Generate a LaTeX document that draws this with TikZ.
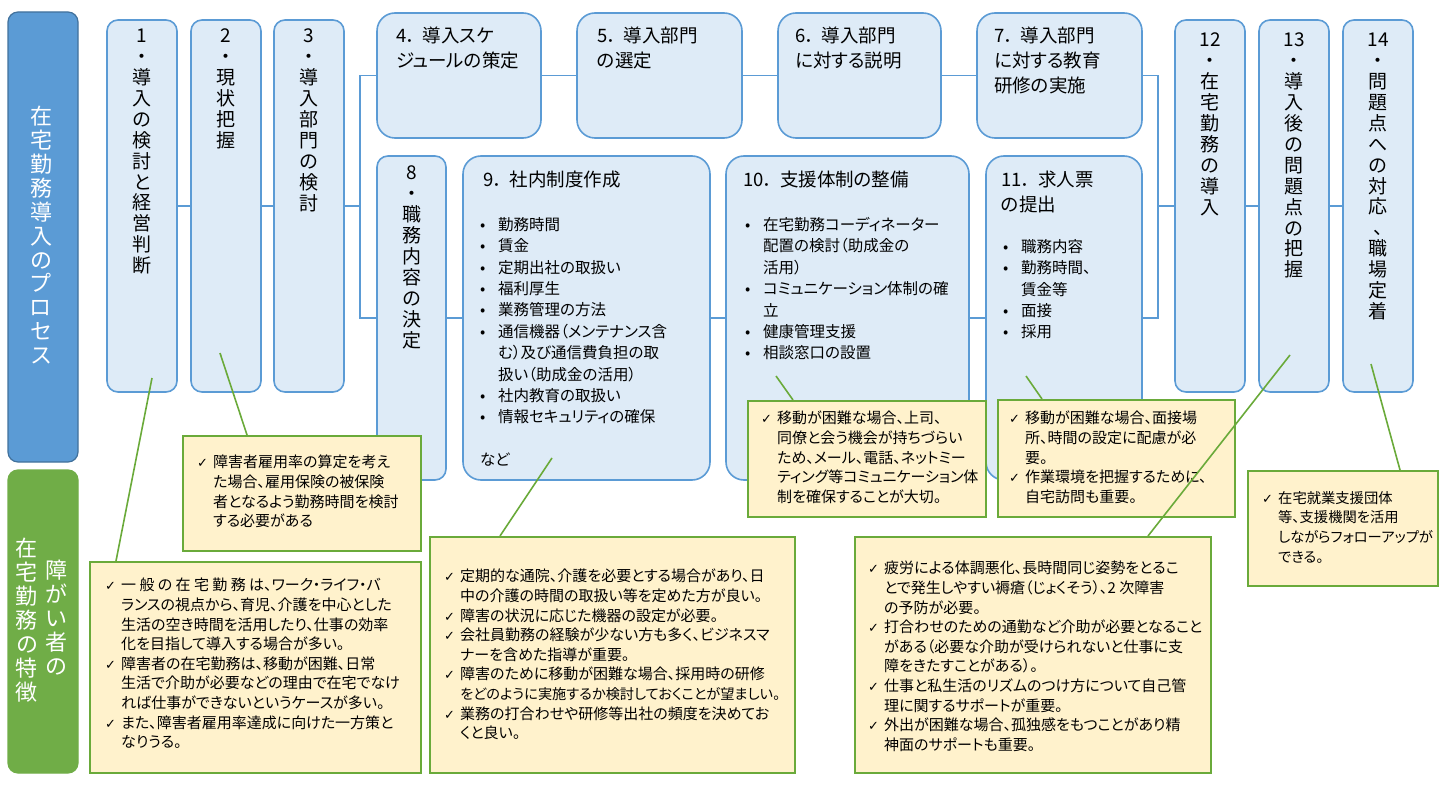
\documentclass[tikz,border=0pt]{standalone}
\usepackage{fontspec}
\setmainfont{Noto Sans CJK JP}[RawFeature=+palt]
\newfontfamily\djf{DejaVu Sans}
\definecolor{bord}{HTML}{5B9BD5}
\definecolor{boxf}{HTML}{DEEBF7}
\definecolor{lblue}{HTML}{5B9BD5}
\definecolor{lblueb}{HTML}{41719C}
\definecolor{lgreen}{HTML}{70AD47}
\definecolor{ngreen}{HTML}{6AAA3A}
\definecolor{noteY}{HTML}{FFF2CC}
\newcommand\ck{\makebox[16pt][l]{\djf\fontsize{13}{13}\selectfont ✓}}
\newcommand\ind{\hspace*{16pt}}
\newcommand\bl{\makebox[18pt][l]{•}}
\newcommand\bi{\hspace*{18pt}}
\newcommand\pd{．\hspace{7pt}}
\begin{document}
\begin{tikzpicture}[x=1pt,y=-1pt,
  pbox/.style={draw=bord, fill=boxf, line width=1.6pt, rounded corners=11pt, inner sep=0},
  tbox/.style={pbox, rounded corners=18pt},
  note/.style={draw=ngreen, fill=noteY, line width=1.8pt, inner sep=0},
  nt/.style={font=\fontsize{15}{19.6}\selectfont, align=left, inner sep=0, anchor=north west},
  bt/.style={font=\fontsize{15.5}{21.4}\selectfont, align=left, inner sep=0, anchor=north west},
  tt/.style={font=\fontsize{18.5}{25}\selectfont, align=left, inner sep=0, anchor=north west},
  vt/.style={font=\fontsize{19}{20.9}\selectfont, align=center, inner sep=0, anchor=north},
  lt/.style={font=\fontsize{22}{23.9}\selectfont, align=center, inner sep=0, anchor=north, text=white},
  conn/.style={draw=bord, line width=1.6pt},
  gl/.style={draw=ngreen, line width=1.6pt}]
\useasboundingbox (0,0) rectangle (1440,810);

% labels
\node[draw=lblueb, fill=lblue, line width=1.2pt, rounded corners=10pt, minimum width=70pt, minimum height=450pt] (lab1) at (43,237) {};
\node[draw=lgreen, fill=lgreen, line width=1.2pt, rounded corners=10pt, minimum width=70pt, minimum height=303pt] (lab2) at (43,621.5) {};
\node[lt] (lab1t) at (41,106) {在\\宅\\勤\\務\\導\\入\\の\\プ\\ロ\\セ\\ス};
\node[lt] (lab2a) at (27,538) {在\\宅\\勤\\務\\の\\特\\徴};
\node[lt] (lab2b) at (56,560) {障\\が\\い\\者\\の};

% connectors
\coordinate (L) at (360,206);
\coordinate (R) at (1158,206);

% boxes
\node[pbox, minimum width=70pt, minimum height=372pt] (b1) at (142,206) {};
\node[pbox, minimum width=70pt, minimum height=372pt] (b2) at (226,206) {};
\node[pbox, minimum width=70pt, minimum height=372pt] (b3) at (309,206) {};
\node[tbox, minimum width=164pt, minimum height=125pt] (b4) at (459,75.5) {};
\node[tbox, minimum width=165pt, minimum height=125pt] (b5) at (659.5,75.5) {};
\node[tbox, minimum width=163pt, minimum height=125pt] (b6) at (859.5,75.5) {};
\node[tbox, minimum width=165pt, minimum height=125pt] (b7) at (1059.5,75.5) {};
\node[pbox, minimum width=69pt, minimum height=324pt] (b8) at (411.5,318) {};
\node[tbox, minimum width=247pt, minimum height=324pt] (b9) at (586.5,318) {};
\node[tbox, minimum width=243pt, minimum height=324pt] (b10) at (847.5,318) {};
\node[tbox, minimum width=156pt, minimum height=324pt] (b11) at (1064,318) {};
\node[pbox, minimum width=70pt, minimum height=372pt] (b12) at (1210,206) {};
\node[pbox, minimum width=70pt, minimum height=372pt] (b13) at (1294,206) {};
\node[pbox, minimum width=70pt, minimum height=372pt] (b14) at (1378,206) {};

\draw[conn] (b1) -- (b2);
\draw[conn] (b2) -- (b3);
\draw[conn] (b3) -- (L);
\draw[conn] (b4) -| (L) |- (b8);
\draw[conn] (b4) -- (b5);
\draw[conn] (b5) -- (b6);
\draw[conn] (b6) -- (b7);
\draw[conn] (b8) -- (b9);
\draw[conn] (b9) -- (b10);
\draw[conn] (b10) -- (b11);
\draw[conn] (b7) -| (R) |- (b11);
\draw[conn] (R) -- (b12);
\draw[conn] (b12) -- (b13);
\draw[conn] (b13) -- (b14);

% vertical texts
\node[vt] (t1) at (142,29) {1\\・\\導\\入\\の\\検\\討\\と\\経\\営\\判\\断};
\node[vt] (t2) at (226,29) {2\\・\\現\\状\\把\\握};
\node[vt] (t3) at (309,29) {3\\・\\導\\入\\部\\門\\の\\検\\討};
\node[vt] (t8) at (411.5,166) {8\\・\\職\\務\\内\\容\\の\\決\\定};
\node[vt] (t12) at (1210,33) {12\\・\\在\\宅\\勤\\務\\の\\導\\入};
\node[vt] (t13) at (1294,33) {13\\・\\導\\入\\後\\の\\問\\題\\点\\の\\把\\握};
\node[vt] (t14) at (1378,33) {14\\・\\問\\題\\点\\へ\\の\\対\\応\\、\\職\\場\\定\\着};

% top texts
\node[tt] (t4) at (396,27) {4\pd 導入スケ\\ジュールの策定};
\node[tt] (t5) at (597,27) {5\pd 導入部門\\の選定};
\node[tt] (t6) at (795,27) {6\pd 導入部門\\に対する説明};
\node[tt] (t7) at (994,27) {7\pd 導入部門\\に対する教育\\研修の実施};
\node[tt] (t9) at (483,171) {9\pd 社内制度作成};
\node[tt] (t10) at (743,171) {10\pd 支援体制の整備};
\node[tt] (t11) at (1001,171) {11\pd 求人票\\の提出};

\node[bt] (l9) at (480,217) {\bl 勤務時間\\\bl 賃金\\\bl 定期出社の取扱い\\\bl 福利厚生\\\bl 業務管理の方法\\\bl 通信機器（メンテナンス含\\\bi む）及び通信費負担の取\\\bi 扱い（助成金の活用）\\\bl 社内教育の取扱い\\\bl 情報セキュリティの確保};
\node[bt] (l9b) at (480,453) {など};
\node[bt] (l10) at (745,217) {\bl 在宅勤務コーディネーター\\\bi 配置の検討（助成金の\\\bi 活用）\\\bl コミュニケーション体制の確\\\bi 立\\\bl 健康管理支援\\\bl 相談窓口の設置};
\node[bt] (l11) at (1003,239) {\bl 職務内容\\\bl 勤務時間、\\\bi 賃金等\\\bl 面接\\\bl 採用};

% notes
\node[note, minimum width=331pt, minimum height=211pt] (n1) at (255.5,667.5) {};
\node[note, minimum width=238pt, minimum height=115pt] (n2) at (302,493.5) {};
\node[note, minimum width=365pt, minimum height=236pt] (n9) at (612.5,655) {};
\node[note, minimum width=238pt, minimum height=116pt] (n10) at (867,459) {};
\node[note, minimum width=237pt, minimum height=117pt] (n11) at (1116.5,458.5) {};
\node[note, minimum width=356pt, minimum height=236pt] (n13) at (1033,655) {};
\node[note, minimum width=190pt, minimum height=115pt] (n14) at (1343,528.5) {};

\node[nt] (x2) at (197,455) {\ck 障害者雇用率の算定を考え\\\ind た場合、雇用保険の被保険\\\ind 者となるよう勤務時間を検討\\\ind する必要がある};
\node[nt] (x1) at (105,578) {\ck 一 般 の 在 宅 勤 務 は、ワーク・ライフ・バ\\\ind ランスの視点から、育児、介護を中心とした\\\ind 生活の空き時間を活用したり、仕事の効率\\\ind 化を目指して導入する場合が多い。\\\ck 障害者の在宅勤務は、移動が困難、日常\\\ind 生活で介助が必要などの理由で在宅でなけ\\\ind れば仕事ができないというケースが多い。\\\ck また、障害者雇用率達成に向けた一方策と\\\ind なりうる。};
\node[nt] (x9) at (444,569) {\ck 定期的な通院、介護を必要とする場合があり、日\\\ind 中の介護の時間の取扱い等を定めた方が良い。\\\ck 障害の状況に応じた機器の設定が必要。\\\ck 会社員勤務の経験が少ない方も多く、ビジネスマ\\\ind ナーを含めた指導が重要。\\\ck 障害のために移動が困難な場合、採用時の研修\\\ind {\fontsize{14.2}{19.6}\selectfont をどのように実施するか検討しておくことが望ましい。}\\\ck 業務の打合わせや研修等出社の頻度を決めてお\\\ind くと良い。};
\node[nt] (x10) at (761,411) {\ck 移動が困難な場合、上司、\\\ind 同僚と会う機会が持ちづらい\\\ind ため、メール、電話、ネットミー\\\ind ティング等コミュニケーション体\\\ind 制を確保することが大切。};
\node[nt] (x11) at (1009,411) {\ck 移動が困難な場合、面接場\\\ind 所、時間の設定に配慮が必\\\ind 要。\\\ck 作業環境を把握するために、\\\ind 自宅訪問も重要。};
\node[nt] (x13) at (868,561) {\ck 疲労による体調悪化、長時間同じ姿勢をとるこ\\\ind とで発生しやすい褥瘡（じょくそう）、2 次障害\\\ind の予防が必要。\\\ck 打合わせのための通勤など介助が必要となること\\\ind がある（必要な介助が受けられないと仕事に支\\\ind 障をきたすことがある）。\\\ck 仕事と私生活のリズムのつけ方について自己管\\\ind 理に関するサポートが重要。\\\ck 外出が困難な場合、孤独感をもつことがあり精\\\ind 神面のサポートも重要。};
\node[nt, font=\fontsize{14.3}{19.6}\selectfont] (x14) at (1262,491) {\ck 在宅就業支援団体\\\ind 等、支援機関を活用\\\ind しながらフォローアップが\\\ind できる。};

% green leaders
\coordinate (g1) at (152,378); \coordinate (h1) at (116,561);
\coordinate (g2) at (220,353); \coordinate (h2) at (247,435);
\coordinate (g9) at (552,458); \coordinate (h9) at (500,536);
\coordinate (g10) at (776,376); \coordinate (h10) at (793,400);
\coordinate (g11) at (1026,376); \coordinate (h11) at (1042,399);
\coordinate (g13) at (1290,355); \coordinate (h13) at (1148,536);
\coordinate (g14) at (1371,364); \coordinate (h14) at (1400,470);
\draw[gl] (g1) -- (h1);
\draw[gl] (g2) -- (h2);
\draw[gl] (g9) -- (h9);
\draw[gl] (g10) -- (h10);
\draw[gl] (g11) -- (h11);
\draw[gl] (g13) -- (h13);
\draw[gl] (g14) -- (h14);
\end{tikzpicture}
\end{document}
